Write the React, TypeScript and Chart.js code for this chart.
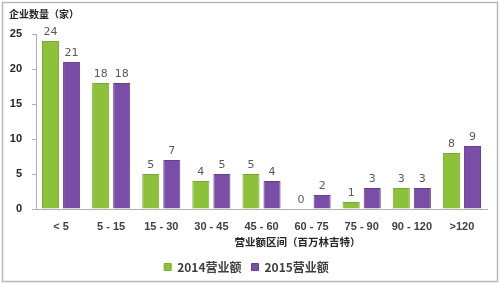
import React, { useEffect, useRef } from "react";
import { Chart, registerables } from "chart.js";

Chart.register(...registerables);

const categories = ["< 5", "5 - 15", "15 - 30", "30 - 45", "45 - 60", "60 - 75", "75 - 90", "90 - 120", ">120"];
const values2014 = [24, 18, 5, 4, 5, 0, 1, 3, 8];
const values2015 = [21, 18, 7, 5, 4, 2, 3, 3, 9];
const seriesNames = ["2014营业额", "2015营业额"];
const yTitle = "企业数量（家）";
const xTitle = "营业额区间（百万林吉特）";
const yTicks = [0, 5, 10, 15, 20, 25];

const GREEN = "#8dc03b";
const PURPLE = "#7a4da6";
const CJK = "'Noto Sans CJK SC', 'DejaVu Sans', sans-serif";
const LAT = "'Liberation Sans', Arial, sans-serif";

const decorPlugin = {
  id: "decor",
  beforeDraw(chart: any) {
    const ctx = chart.ctx;
    ctx.save();
    ctx.fillStyle = "#ffffff";
    ctx.fillRect(0, 0, chart.width, chart.height);
    ctx.strokeStyle = "#b8b8b8";
    ctx.lineWidth = 1.5;
    ctx.strokeRect(2.5, 2.5, chart.width - 5, chart.height - 5);
    ctx.restore();
  },
  afterDatasetsDraw(chart: any) {
    const ctx = chart.ctx;
    ctx.save();
    ctx.font = "11px 'DejaVu Sans', sans-serif";
    ctx.fillStyle = "#595959";
    ctx.textAlign = "center";
    ctx.textBaseline = "middle";
    chart.data.datasets.forEach((ds: any, i: number) => {
      const meta = chart.getDatasetMeta(i);
      meta.data.forEach((bar: any, j: number) => {
        ctx.fillText(String(ds.data[j]), bar.x, bar.y - 9);
      });
    });
    ctx.font = "bold 10px " + CJK;
    ctx.fillStyle = "#262626";
    ctx.textAlign = "left";
    ctx.fillText(yTitle, 9, 14);
    const xs = chart.scales.x;
    ctx.textAlign = "center";
    ctx.font = "bold 10.5px " + CJK;
    ctx.fillText(xTitle, xs.left + (xs.right - xs.left) * 0.58, 242);
    ctx.restore();
  },
};

export default function App() {
  const ref = useRef<HTMLCanvasElement | null>(null);
  useEffect(() => {
    document.body.style.margin = "0";
    const chart = new Chart(ref.current as HTMLCanvasElement, {
      type: "bar",
      data: {
        labels: categories,
        datasets: [
          { label: seriesNames[0], data: values2014, backgroundColor: GREEN, borderColor: "#7aa832", borderWidth: 1 },
          { label: seriesNames[1], data: values2015, backgroundColor: PURPLE, borderColor: "#663d8f", borderWidth: 1 },
        ],
      },
      options: {
        responsive: false,
        animation: false,
        devicePixelRatio: 1,
        layout: { padding: { left: 6, right: 13, top: 34, bottom: 1 } },
        datasets: { bar: { categoryPercentage: 0.84, barPercentage: 0.81 } },
        plugins: {
          legend: {
            position: "bottom",
            labels: {
              boxWidth: 7,
              boxHeight: 7,
              padding: 10,
              color: "#404040",
              font: { size: 12, weight: "bold", family: CJK },
            },
          },
          tooltip: { enabled: false },
        },
        scales: {
          x: {
            grid: { display: false, drawTicks: false },
            border: { color: "#b0b0b0" },
            ticks: { color: "#404040", padding: 11, maxRotation: 0, minRotation: 0, autoSkip: false, font: { size: 11, weight: "bold", family: LAT } },
            afterFit: (s: any) => { s.height = 42; },
          },
          y: {
            min: 0,
            max: 25,
            afterBuildTicks: (s: any) => { s.ticks = yTicks.map((v) => ({ value: v })); },
            grid: { drawOnChartArea: false, drawTicks: true, tickLength: 4, color: "#b0b0b0" },
            border: { color: "#b0b0b0" },
            ticks: { color: "#262626", padding: 10, font: { size: 11, weight: "bold", family: LAT } },
            afterFit: (s: any) => { s.width = 30; },
          },
        },
      },
      plugins: [decorPlugin],
    } as any);
    return () => chart.destroy();
  }, []);
  return <canvas ref={ref} width={500} height={284} style={{ display: "block" }} />;
}
